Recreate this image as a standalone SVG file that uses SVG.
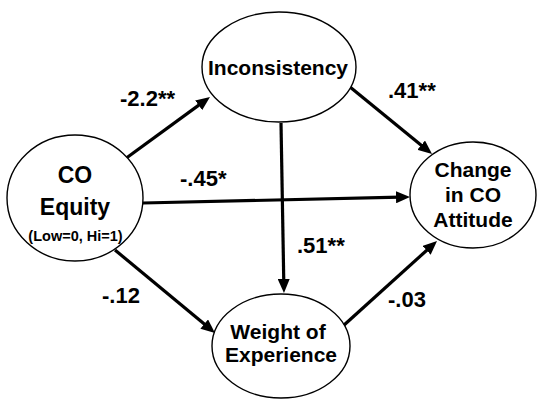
<svg xmlns="http://www.w3.org/2000/svg" width="542" height="399" viewBox="0 0 542 399">
<style>
.node ellipse{fill:#fff;stroke:#000;stroke-width:1.4}
.t{font-family:"Liberation Sans",Arial,sans-serif;font-weight:bold;fill:#000;text-anchor:middle}
.lab{font-family:"Liberation Sans",Arial,sans-serif;font-weight:bold;font-size:22px;fill:#000}
.edges line{stroke:#000;stroke-width:3.2}
</style>
<defs>
<marker id="ah" markerUnits="userSpaceOnUse" markerWidth="15" markerHeight="12" refX="4" refY="6" orient="auto">
<path d="M0,0 L14,6 L0,12 z" fill="#000"/>
</marker>
</defs>
<rect width="542" height="399" fill="#fff"/>
<g class="edges">
<line x1="125" y1="159" x2="201.9" y2="102.9" marker-end="url(#ah)"/>
<line x1="350" y1="87" x2="424.3" y2="147.7" marker-end="url(#ah)"/>
<line x1="143" y1="203" x2="400" y2="197.2" marker-end="url(#ah)"/>
<line x1="281" y1="123" x2="283.8" y2="283" marker-end="url(#ah)"/>
<line x1="343" y1="326" x2="429.6" y2="247.7" marker-end="url(#ah)"/>
<line x1="115" y1="250" x2="207.3" y2="326.6" marker-end="url(#ah)"/>
</g>
<g id="co-equity" class="node">
<ellipse cx="75" cy="198" rx="68" ry="63"/>
<text class="t" x="75" y="183" font-size="23">CO</text>
<text class="t" x="75" y="215" font-size="23">Equity</text>
<text class="t" x="75.5" y="241" font-size="14.5">(Low=0, Hi=1)</text>
</g>
<g id="inconsistency" class="node">
<ellipse cx="279" cy="67" rx="77" ry="55"/>
<text class="t" x="278" y="75" font-size="21">Inconsistency</text>
</g>
<g id="change" class="node">
<ellipse cx="473" cy="195" rx="63" ry="53"/>
<text class="t" x="473" y="177" font-size="21">Change</text>
<text class="t" x="473" y="202" font-size="21">in CO</text>
<text class="t" x="473" y="227" font-size="21">Attitude</text>
</g>
<g id="weight" class="node">
<ellipse cx="281" cy="346" rx="69" ry="52"/>
<text class="t" x="278" y="339" font-size="21">Weight of</text>
<text class="t" x="281" y="362" font-size="21">Experience</text>
</g>
<g id="labels">
<text class="lab" x="120" y="106">-2.2**</text>
<text class="lab" x="180" y="186">-.45*</text>
<text class="lab" x="388" y="98">.41**</text>
<text class="lab" x="297" y="253">.51**</text>
<text class="lab" x="102" y="303">-.12</text>
<text class="lab" x="388" y="307">-.03</text>
</g>
</svg>
